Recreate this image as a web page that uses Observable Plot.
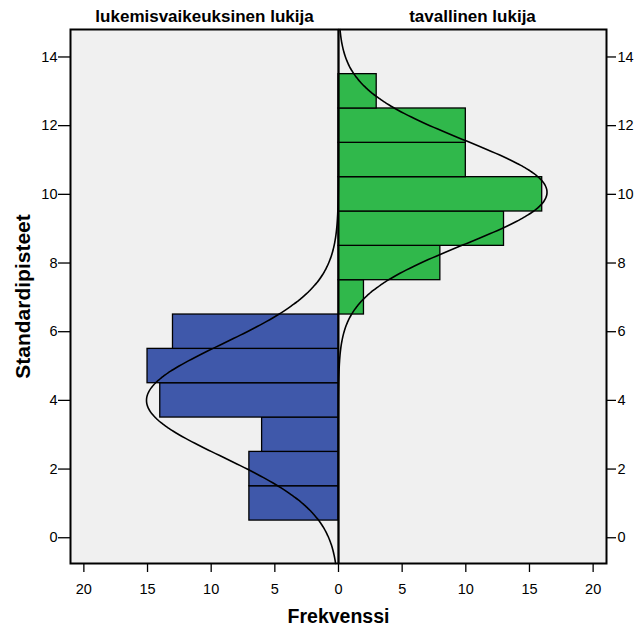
<!DOCTYPE html>
<html>
<head>
<meta charset="utf-8">
<script src="https://cdn.jsdelivr.net/npm/d3@7"></script>
<script src="https://cdn.jsdelivr.net/npm/@observablehq/plot@0.6"></script>
<style>
  body { margin: 0; background: #fff; }
</style>
</head>
<body>
<div id="chart"></div>
<script>
// Data
const groups = ["lukemisvaikeuksinen lukija", "tavallinen lukija"];
const leftBins = [1, 2, 3, 4, 5, 6];          // bin centres (width 1)
const leftCounts = [7, 7, 6, 14, 15, 13];
const rightBins = [7, 8, 9, 10, 11, 12, 13];
const rightCounts = [2, 8, 13, 16, 10, 10, 3];
const xTicks = [-20, -15, -10, -5, 0, 5, 10, 15, 20];
const yTicks = [0, 2, 4, 6, 8, 10, 12, 14];
const xLabel = "Frekvenssi";
const yLabel = "Standardipisteet";
// fitted normal curves (mean, sd, n)
const leftFit = {mean: 4.0, sd: 1.64, n: 62};
const rightFit = {mean: 10.06, sd: 1.51, n: 62};

const yDomain = [-0.75, 14.8];
const xDomain = [-21.05, 21.05];

const leftRows = leftBins.map((b, i) => ({y1: b - 0.5, y2: b + 0.5, x1: 0, x2: -leftCounts[i]}));
const rightRows = rightBins.map((b, i) => ({y1: b - 0.5, y2: b + 0.5, x1: 0, x2: rightCounts[i]}));

const grid = d3.range(yDomain[0], yDomain[1] + 0.001, 0.05);
const pdf = (y, f) => f.n / (f.sd * Math.sqrt(2 * Math.PI)) * Math.exp(-0.5 * ((y - f.mean) / f.sd) ** 2);
const leftCurve = grid.map(y => ({y, x: -pdf(y, leftFit)}));
const rightCurve = grid.map(y => ({y, x: pdf(y, rightFit)}));

const plot = Plot.plot({
  width: 639,
  height: 626,
  marginLeft: 70,
  marginRight: 33,
  marginTop: 29,
  marginBottom: 63,
  style: {fontFamily: "'Liberation Sans', Arial, sans-serif", fontSize: "14.5px", color: "#000", background: "#fff"},
  x: {domain: xDomain},
  y: {domain: yDomain},
  marks: [
    Plot.frame({fill: "#f0f0f0", stroke: null}),
    Plot.rectX(leftRows, {x1: "x1", x2: "x2", y1: "y1", y2: "y2", fill: "#3f58aa", stroke: "#000", strokeWidth: 1.3}),
    Plot.rectX(rightRows, {x1: "x1", x2: "x2", y1: "y1", y2: "y2", fill: "#30b84b", stroke: "#000", strokeWidth: 1.3}),
    Plot.line(leftCurve, {x: "x", y: "y", stroke: "#000", strokeWidth: 1.6, curve: "basis"}),
    Plot.line(rightCurve, {x: "x", y: "y", stroke: "#000", strokeWidth: 1.6, curve: "basis"}),
    Plot.ruleX([0], {stroke: "#000", strokeWidth: 2}),
    Plot.frame({stroke: "#000", strokeWidth: 2}),
    Plot.axisX(xTicks, {anchor: "bottom", tickFormat: d => Math.abs(d), tickSize: 9, tickPadding: 11, strokeWidth: 1.3, label: null}),
    Plot.axisY(yTicks, {anchor: "left", tickSize: 12, tickPadding: 1, strokeWidth: 1.3, label: null}),
    Plot.axisY(yTicks, {anchor: "right", tickSize: 9, tickPadding: 2, strokeWidth: 1.3, label: null}),
    Plot.text([groups[0]], {x: (xDomain[0]) / 2, frameAnchor: "top", dy: -20, text: d => d, fontWeight: "bold", fontSize: 17}),
    Plot.text([groups[1]], {x: (xDomain[1]) / 2, frameAnchor: "top", dy: -20, text: d => d, fontWeight: "bold", fontSize: 17}),
    Plot.text([xLabel], {frameAnchor: "bottom", dy: 59, text: d => d, fontWeight: "bold", fontSize: 19.5}),
    Plot.text([yLabel], {frameAnchor: "left", textAnchor: "middle", dx: -47, rotate: -90, text: d => d, fontWeight: "bold", fontSize: 21})
  ]
});
document.getElementById("chart").appendChild(plot);
</script>
</body>
</html>
